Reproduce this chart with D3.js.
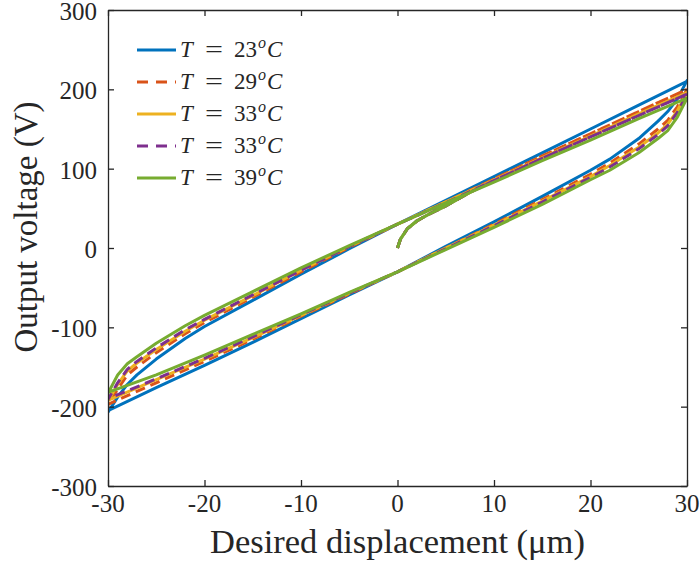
<!DOCTYPE html>
<html>
<head>
<meta charset="utf-8">
<script src="https://cdn.jsdelivr.net/npm/d3@7"></script>
<style>
  body { margin: 0; background: #fff; }
  text { font-family: "Liberation Serif", "DejaVu Serif", "Times New Roman", serif; fill: #262626; }
</style>
</head>
<body>
<svg id="chart" width="700" height="569"></svg>
<script>
'use strict'

// legend / series info
const temps = ['23', '29', '33', '33', '39'];
const colors = ['#0072BD', '#D95319', '#EDB120', '#7E2F8E', '#77AC30'];
const dashed = [false, true, false, true, false];

const xTicks = [-30, -20, -10, 0, 10, 20, 30];
const yTicks = [-300, -200, -100, 0, 100, 200, 300];

// initial loading curve (same for every temperature)
const xInit = [0, 0.3, 1, 2, 3, 4, 5, 6, 7.5];
const vInit = [0, 11, 24, 34, 41, 47, 53, 60, 70];

// ascending branch (displacement going up)
const xUp = [-30, -29, -28, -27, -25, -22, -20, -15, -10, -5, 0, 5, 10, 15, 20, 25, 30];
const vUp23 = [-207, -188, -172, -160, -140, -114, -99, -66, -33, -1, 30, 60, 90, 120, 150, 180, 210];
const vUp29 = [-198, -178, -160, -150, -132, -108, -94, -62, -30, 1, 30, 58, 87, 116, 144, 172, 200];
const vUp33a = [-193, -172, -155, -145, -128, -105, -91, -60, -28, 2, 30, 58, 86, 114, 141, 169, 196];
const vUp33b = [-191, -170, -153, -143, -126, -103, -90, -59, -28, 2, 30, 57, 85, 113, 140, 167, 194];
const vUp39 = [-183, -160, -146, -137, -120, -98, -85, -55, -25, 3, 30, 57, 83, 110, 136, 163, 189];

// descending branch (displacement going down)
const xDown = [30, 29, 28, 27, 25, 22, 20, 15, 10, 5, 0, -5, -10, -15, -20, -25, -30];
const vDown23 = [211, 188, 172, 160, 138, 112, 98, 65, 33, 2, -30, -59, -89, -119, -148, -176, -205];
const vDown29 = [200, 178, 161, 150, 131, 107, 93, 61, 30, 0, -30, -58, -86, -115, -143, -170, -197];
const vDown33a = [196, 173, 156, 145, 127, 104, 90, 59, 29, 0, -30, -57, -85, -113, -140, -166, -192];
const vDown33b = [194, 171, 154, 143, 125, 102, 89, 58, 28, -1, -30, -57, -84, -112, -139, -165, -190];
const vDown39 = [189, 165, 148, 138, 120, 98, 86, 55, 26, -2, -30, -56, -83, -109, -135, -160, -182];

const upSets = [vUp23, vUp29, vUp33a, vUp33b, vUp39];
const downSets = [vDown23, vDown29, vDown33a, vDown33b, vDown39];

const margin = { left: 108, right: 13, top: 10, bottom: 83 };
const W = 700, H = 569;

const svg = d3.select('#chart');

const x = d3.scaleLinear().domain([-30, 30]).range([margin.left, W - margin.right]);
const y = d3.scaleLinear().domain([-300, 300]).range([H - margin.bottom, margin.top]);

svg.append('defs').append('clipPath').attr('id', 'plotclip')
  .append('rect')
    .attr('x', x(-30)).attr('y', y(300))
    .attr('width', x(30) - x(-30)).attr('height', y(-300) - y(300));

function buildPath(i) {
  const pts = [];
  xInit.forEach((d, k) => pts.push([d, vInit[k]]));
  xUp.forEach((d, k) => { if (d >= 10) pts.push([d, upSets[i][k]]); });
  xDown.forEach((d, k) => pts.push([d, downSets[i][k]]));
  xUp.forEach((d, k) => pts.push([d, upSets[i][k]]));
  return pts;
}

const line = d3.line().x(d => x(d[0])).y(d => y(d[1]));

const plot = svg.append('g').attr('clip-path', 'url(#plotclip)');
temps.forEach((t, i) => {
  plot.append('path')
    .datum(buildPath(i))
    .attr('fill', 'none')
    .attr('stroke', colors[i])
    .attr('stroke-width', 3)
    .attr('stroke-linejoin', 'round')
    .attr('stroke-dasharray', dashed[i] ? '10,6' : null)
    .attr('d', line);
});

// axes box with inward ticks on all sides
const tickLen = 6;
const axisColor = '#262626';
const ax = svg.append('g');
ax.append('g')
  .attr('transform', 'translate(0,' + y(-300) + ')')
  .call(d3.axisBottom(x).tickValues(xTicks).tickSizeInner(-tickLen).tickSizeOuter(0).tickFormat(''));
ax.append('g')
  .attr('transform', 'translate(0,' + y(300) + ')')
  .call(d3.axisTop(x).tickValues(xTicks).tickSizeInner(-tickLen).tickSizeOuter(0).tickFormat(''));
ax.append('g')
  .attr('transform', 'translate(' + x(-30) + ',0)')
  .call(d3.axisLeft(y).tickValues(yTicks).tickSizeInner(-tickLen).tickSizeOuter(0).tickFormat(''));
ax.append('g')
  .attr('transform', 'translate(' + x(30) + ',0)')
  .call(d3.axisRight(y).tickValues(yTicks).tickSizeInner(-tickLen).tickSizeOuter(0).tickFormat(''));
ax.selectAll('path, line').attr('stroke', axisColor).attr('stroke-width', 1.3);

// tick labels
svg.append('g').selectAll('text')
  .data(xTicks)
  .enter().append('text')
    .attr('x', d => x(d))
    .attr('y', y(-300) + 26)
    .attr('text-anchor', 'middle')
    .style('font-size', '25px')
    .text(d => d);

svg.append('g').selectAll('text')
  .data(yTicks)
  .enter().append('text')
    .attr('x', x(-30) - 11)
    .attr('y', d => y(d) + 10)
    .attr('text-anchor', 'end')
    .style('font-size', '25px')
    .text(d => d);

// axis titles
svg.append('text')
  .attr('x', (x(-30) + x(30)) / 2)
  .attr('y', 553)
  .attr('text-anchor', 'middle')
  .style('font-size', '34.5px')
  .text('Desired displacement (μm)');

svg.append('text')
  .attr('transform', 'translate(37,227) rotate(-90)')
  .attr('text-anchor', 'middle')
  .style('font-size', '33px')
  .text('Output voltage (V)');

// legend
const legend = svg.append('g');
temps.forEach((t, i) => {
  const ly = 50 + i * 32;
  legend.append('line')
    .attr('x1', 137).attr('x2', 176)
    .attr('y1', ly).attr('y2', ly)
    .attr('stroke', colors[i])
    .attr('stroke-width', 3)
    .attr('stroke-dasharray', dashed[i] ? '11,8' : null);
  legend.append('text')
    .attr('x', 205).attr('y', ly + 7)
    .attr('textLength', 18).attr('lengthAdjust', 'spacingAndGlyphs')
    .style('font-size', '23px')
    .text('=');
  const tx = legend.append('text')
    .attr('y', ly + 7)
    .style('font-size', '23px');
  tx.append('tspan').attr('x', 180).style('font-style', 'italic').text('T');
  tx.append('tspan').attr('x', 234).text(t);
  tx.append('tspan').attr('x', 258).attr('dy', -9).style('font-size', '16px').style('font-style', 'italic').text('o');
  tx.append('tspan').attr('x', 267).attr('dy', 9).style('font-style', 'italic').text('C');
});
</script>
</body>
</html>
